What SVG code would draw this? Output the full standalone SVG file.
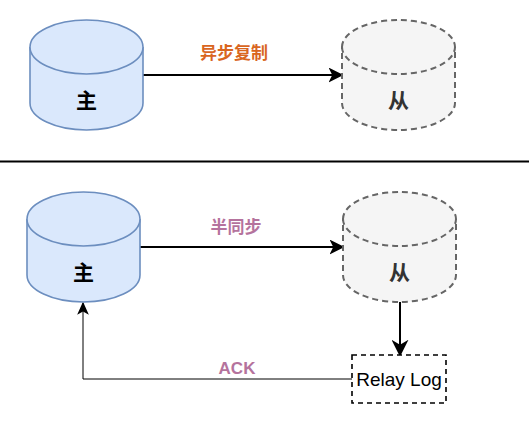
<svg xmlns="http://www.w3.org/2000/svg" width="529" height="423" viewBox="0 0 529 423">
<style>
.master{fill:#dae8fc;stroke:#6c8ebf;stroke-width:1.6}
.slave{fill:#f5f5f5;stroke:#666666;stroke-width:2;stroke-dasharray:6 4}
.lbl{font-family:"Liberation Sans","Noto Sans CJK SC",sans-serif;font-weight:bold;text-anchor:middle;dominant-baseline:central}
.edge{fill:none;stroke:#000}
</style>
<defs>
<marker id="ah" viewBox="0 0 10 10" refX="9" refY="5" markerWidth="7.5" markerHeight="7.5" orient="auto" markerUnits="strokeWidth">
<path d="M0,0 L10,5 L0,10 L2.5,5 Z" fill="#000"/>
</marker>
<marker id="ahv" viewBox="0 0 10 10" refX="9" refY="5" markerWidth="8.5" markerHeight="8.5" orient="auto" markerUnits="strokeWidth">
<path d="M0,0 L10,5 L0,10 L3,5 Z" fill="#000"/>
</marker>
<marker id="ah1" viewBox="0 0 10 10" refX="9" refY="5" markerWidth="13" markerHeight="13" orient="auto" markerUnits="strokeWidth">
<path d="M0,0.5 L10,5 L0,9.5 L2.5,5 Z" fill="#000"/>
</marker>
</defs>
<g id="connectors">
<line class="edge" x1="143" y1="75" x2="342" y2="75" stroke-width="2" marker-end="url(#ah)"/>
<line class="edge" x1="140" y1="247" x2="343" y2="247" stroke-width="2" marker-end="url(#ah)"/>
<line class="edge" x1="400" y1="302" x2="400" y2="355" stroke-width="2" marker-end="url(#ahv)"/>
<polyline class="edge" points="352,379 83,379 83,303" stroke-width="1" marker-end="url(#ah1)"/>
<text class="lbl" x="234" y="53" font-size="17" fill="#d9661f">异步复制</text>
<text class="lbl" x="236" y="227" font-size="17" fill="#b5739d">半同步</text>
<text class="lbl" x="237" y="368" font-size="17" fill="#b5739d">ACK</text>
</g>
<line id="separator" x1="0" y1="161.5" x2="529" y2="161.5" stroke="#000" stroke-width="2"/>
<g id="master1">
<path class="master" d="M30,47 A56.5,27 0 0 1 143,47 L143,103 A56.5,27 0 0 1 30,103 Z"/>
<path class="master" d="M30,47 A56.5,27 0 0 0 143,47" fill="none"/>
<text class="lbl" x="86.5" y="100" font-size="21" fill="#000">主</text>
</g>
<g id="slave1">
<path class="slave" d="M342,47 A56.5,27 0 0 1 455,47 L455,103 A56.5,27 0 0 1 342,103 Z"/>
<path class="slave" d="M342,47 A56.5,27 0 0 0 455,47" fill="none"/>
<text class="lbl" x="398.5" y="100" font-size="21" fill="#333">从</text>
</g>
<g id="master2">
<path class="master" d="M27,219 A56.5,27 0 0 1 140,219 L140,275 A56.5,27 0 0 1 27,275 Z"/>
<path class="master" d="M27,219 A56.5,27 0 0 0 140,219" fill="none"/>
<text class="lbl" x="83.5" y="272" font-size="21" fill="#000">主</text>
</g>
<g id="slave2">
<path class="slave" d="M343,219 A56.5,27 0 0 1 456,219 L456,275 A56.5,27 0 0 1 343,275 Z"/>
<path class="slave" d="M343,219 A56.5,27 0 0 0 456,219" fill="none"/>
<text class="lbl" x="399.5" y="272" font-size="21" fill="#333">从</text>
</g>
<g id="relaylog">
<rect x="352" y="355" width="94" height="48" fill="#fff" stroke="#000" stroke-width="1.6" stroke-dasharray="5 4"/>
<text x="399" y="379" font-family="'Liberation Sans',sans-serif" font-size="19" text-anchor="middle" dominant-baseline="central" fill="#000">Relay Log</text>
</g>
</svg>
